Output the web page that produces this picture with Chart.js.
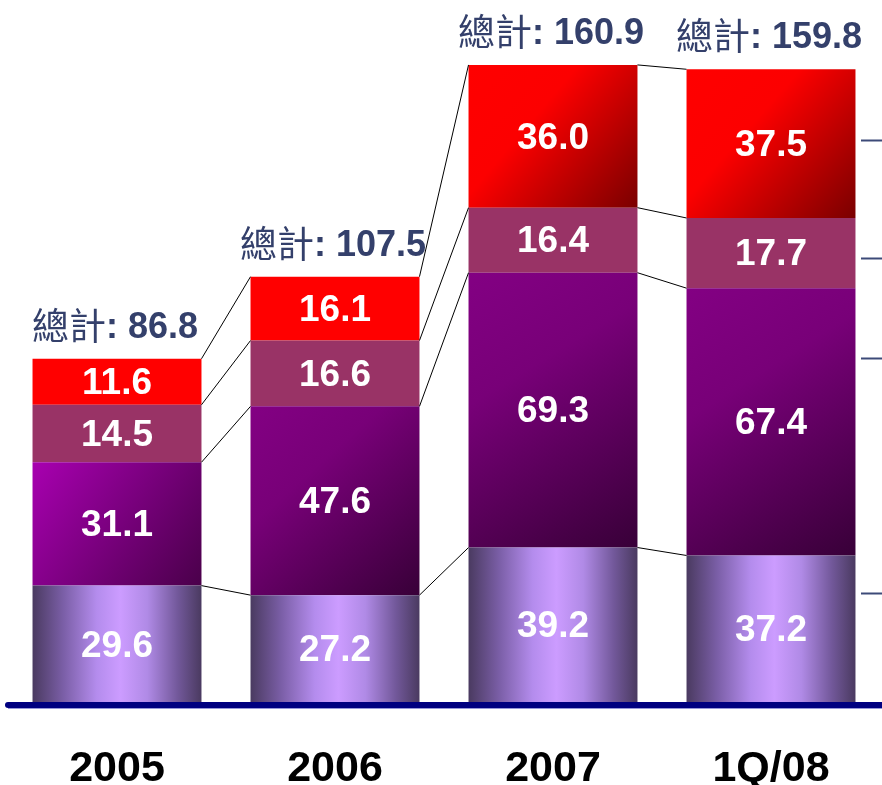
<!DOCTYPE html>
<html>
<head>
<meta charset="utf-8">
<script src="https://cdn.jsdelivr.net/npm/chart.js@4/dist/chart.umd.min.js"></script>
<style>
body{margin:0;background:#fff;}
#wrap{width:882px;height:785px;position:relative;}
</style>
</head>
<body>
<div id="wrap"><canvas id="myChart"></canvas></div>
<script>
'use strict';
// data
let categories=['2005','2006','2007','1Q/08'];
let lavenderVals=[29.6,27.2,39.2,37.2];
let purpleVals=[31.1,47.6,69.3,67.4];
let mauveVals=[14.5,16.6,16.4,17.7];
let redVals=[11.6,16.1,36.0,37.5];
let totals=[86.8,107.5,160.9,159.8];
let totalWord='總計';
// short marks on the right edge (y values)
let sideMarks=[142,112.2,87,27.7];

let barPct=0.775;
let allSeries=[lavenderVals,purpleVals,mauveVals,redVals];

// rectangle of one segment, from the scales
function segRect(chart,ds,i){
  let xs=chart.scales.x, ys=chart.scales.y;
  let cx=xs.getPixelForValue(i);
  let half=xs.width/categories.length*barPct/2;
  let below=0;
  for(let k=0;k<ds;k++){below+=allSeries[k][i];}
  return {left:cx-half,right:cx+half,top:ys.getPixelForValue(below+allSeries[ds][i]),bottom:ys.getPixelForValue(below)};
}

function lavenderFill(c){
  let r=segRect(c.chart,c.datasetIndex,c.dataIndex);
  if(isNaN(r.left)) return '#b08ae6';
  let g=c.chart.ctx.createLinearGradient(r.left,0,r.right,0);
  g.addColorStop(0,'#4a3a60');
  g.addColorStop(0.18,'#7a5ea6');
  g.addColorStop(0.38,'#b48ced');
  g.addColorStop(0.52,'#cc9cff');
  g.addColorStop(0.68,'#b08ae6');
  g.addColorStop(0.86,'#72589a');
  g.addColorStop(1,'#4a3a60');
  return g;
}
function purpleFill(c){
  let r=segRect(c.chart,c.datasetIndex,c.dataIndex);
  if(isNaN(r.left)) return '#700070';
  let g=c.chart.ctx.createLinearGradient(r.left,r.top,r.right,r.bottom);
  if(c.dataIndex===0){
    g.addColorStop(0,'#a800b0');
    g.addColorStop(1,'#4a004a');
  }else{
    g.addColorStop(0,'#830083');
    g.addColorStop(0.35,'#780078');
    g.addColorStop(1,'#380038');
  }
  return g;
}
// the first two red blocks are flat, the later ones shaded
function redFill(c){
  if(c.dataIndex<2) return '#ff0000';
  let r=segRect(c.chart,c.datasetIndex,c.dataIndex);
  if(isNaN(r.left)) return '#ff0000';
  let g=c.chart.ctx.createLinearGradient(r.left,r.top,r.right,r.bottom);
  g.addColorStop(0,'#ff0000');
  g.addColorStop(0.38,'#fc0000');
  g.addColorStop(1,'#7a0000');
  return g;
}

let extras={
  id:'extras',
  afterDatasetsDraw(chart){
    let ctx=chart.ctx, xs=chart.scales.x, ys=chart.scales.y;
    let area=chart.chartArea;
    ctx.save();
    // connector lines between bars
    ctx.strokeStyle='#000';
    ctx.lineWidth=1;
    for(let i=0;i<categories.length-1;i++){
      let a=0,b=0;
      for(let k=0;k<allSeries.length;k++){
        a+=allSeries[k][i];b+=allSeries[k][i+1];
        let r1=segRect(chart,k,i), r2=segRect(chart,k,i+1);
        ctx.beginPath();
        ctx.moveTo(r1.right,ys.getPixelForValue(a));
        ctx.lineTo(r2.left,ys.getPixelForValue(b));
        ctx.stroke();
      }
    }
    // values inside segments
    ctx.fillStyle='#fff';
    ctx.font='bold 37px "Liberation Sans", Arial, sans-serif';
    ctx.textAlign='center';
    ctx.textBaseline='middle';
    for(let k=0;k<allSeries.length;k++){
      for(let i=0;i<categories.length;i++){
        let r=segRect(chart,k,i);
        ctx.fillText(allSeries[k][i].toFixed(1),(r.left+r.right)/2,(r.top+r.bottom)/2+2);
      }
    }
    // totals above bars
    ctx.textBaseline='alphabetic';
    ctx.textAlign='left';
    ctx.fillStyle='#34406b';
    for(let i=0;i<categories.length;i++){
      let cjk='normal 37px "Noto Sans CJK TC", "Noto Sans CJK SC", sans-serif';
      let num='bold 36px "Liberation Sans", Arial, sans-serif';
      let rest=': '+totals[i].toFixed(1);
      ctx.font=cjk;let w1=ctx.measureText(totalWord).width;
      ctx.font=num;let w2=ctx.measureText(rest).width;
      let x0=xs.getPixelForValue(i)-(w1+w2)/2-2;
      let yb=ys.getPixelForValue(totals[i])-21;
      ctx.font=cjk;ctx.fillText(totalWord,x0,yb+2);
      ctx.font=num;ctx.fillText(rest,x0+w1,yb);
    }
    // baseline
    let y0=ys.getPixelForValue(0);
    ctx.fillStyle='#000080';
    ctx.beginPath();
    ctx.moveTo(8,y0-1);
    ctx.lineTo(chart.width,y0-1);
    ctx.lineTo(chart.width,y0+5);
    ctx.lineTo(8,y0+5);
    ctx.arc(8,y0+2,3,Math.PI/2,Math.PI*1.5);
    ctx.fill();
    ctx.strokeStyle='rgba(80,80,190,0.6)';
    ctx.lineWidth=1;
    ctx.beginPath();ctx.moveTo(8,y0+5.5);ctx.lineTo(chart.width,y0+5.5);ctx.stroke();
    // side marks
    ctx.strokeStyle='#3c4a78';
    ctx.lineWidth=2;
    sideMarks.forEach(function(v){
      let y=Math.round(ys.getPixelForValue(v))+0.5;
      ctx.beginPath();ctx.moveTo(861,y);ctx.lineTo(chart.width,y);ctx.stroke();
    });
    // category labels
    ctx.fillStyle='#000';
    ctx.font='bold 43px "Liberation Sans", Arial, sans-serif';
    ctx.textAlign='center';
    ctx.textBaseline='middle';
    for(let i=0;i<categories.length;i++){
      ctx.fillText(categories[i],xs.getPixelForValue(i),area.bottom+66);
    }
    ctx.restore();
  }
};

function theChart(){
  let ctx=document.getElementById('myChart').getContext('2d');
  let myChart=new Chart(ctx,{
    type:'bar',
    data:{
      labels:categories,
      datasets:[
        {label:'a',data:lavenderVals,backgroundColor:lavenderFill},
        {label:'b',data:purpleVals,backgroundColor:purpleFill},
        {label:'c',data:mauveVals,backgroundColor:'#993366'},
        {label:'d',data:redVals,backgroundColor:redFill}
      ]
    },
    options:{
      responsive:true,
      maintainAspectRatio:false,
      animation:false,
      borderWidth:0,
      datasets:{bar:{barPercentage:barPct,categoryPercentage:1,borderWidth:0}},
      layout:{padding:{top:9,bottom:82,left:8,right:2}},
      scales:{
        x:{stacked:true,display:false},
        y:{stacked:true,display:false,min:0,max:175}
      },
      plugins:{legend:{display:false},tooltip:{enabled:false}}
    },
    plugins:[extras]
  });
}
theChart();
</script>
</body>
</html>
